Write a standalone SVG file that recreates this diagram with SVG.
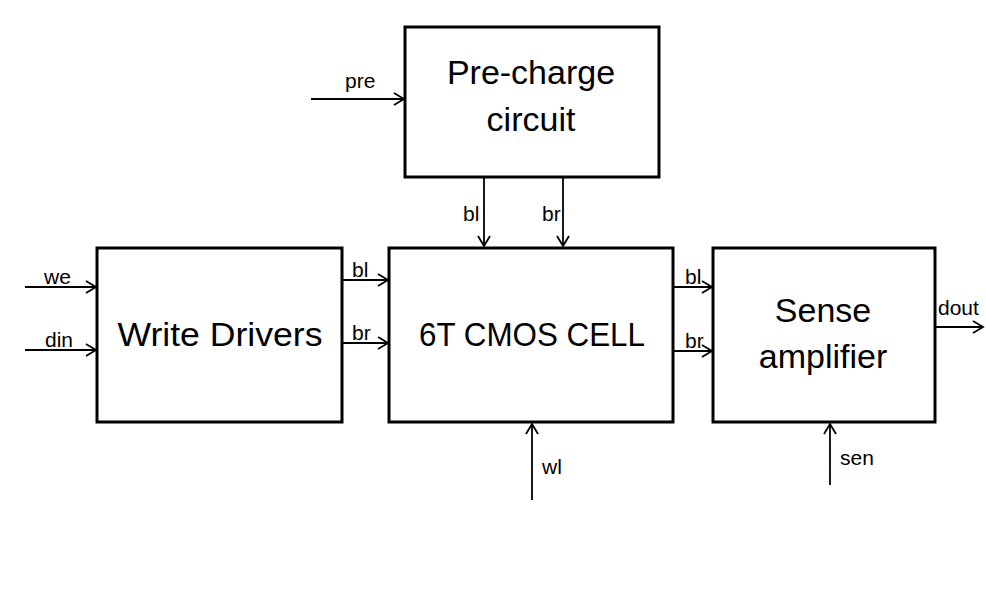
<svg xmlns="http://www.w3.org/2000/svg" width="986" height="593" viewBox="0 0 986 593">
<style>
.box{fill:#fff;stroke:#000;stroke-width:3}
.big{font-family:"Liberation Sans",Arial,sans-serif;font-size:34px;fill:#000;text-anchor:middle}
.lbl{font-family:"Liberation Sans",Arial,sans-serif;font-size:21px;fill:#000}
.w{stroke:#000;stroke-width:1.8;fill:none}
</style>
<defs>
<marker id="ah" markerWidth="14" markerHeight="14" viewBox="0 0 14 14" refX="12" refY="7" orient="auto" markerUnits="userSpaceOnUse">
<polyline points="2,1 12,7 2,13" fill="none" stroke="#000" stroke-width="1.8"/>
</marker>
</defs>
<rect width="986" height="593" fill="#fff"/>
<g id="precharge">
<rect class="box" x="405" y="27" width="254" height="150"/>
<text class="big" x="531" y="84">Pre-charge</text>
<text class="big" x="531" y="131">circuit</text>
</g>
<g id="writedrivers">
<rect class="box" x="97" y="248" width="245" height="174"/>
<text class="big" x="220" y="346" textLength="205" lengthAdjust="spacingAndGlyphs">Write Drivers</text>
</g>
<g id="cmoscell">
<rect class="box" x="389" y="248" width="284" height="174"/>
<text class="big" x="532" y="346" textLength="226" lengthAdjust="spacingAndGlyphs">6T CMOS CELL</text>
</g>
<g id="senseamp">
<rect class="box" x="713" y="248" width="222" height="174"/>
<text class="big" x="823" y="322">Sense</text>
<text class="big" x="823" y="368">amplifier</text>
</g>
<g id="connectors">
<line class="w" x1="311" y1="99" x2="404" y2="99" marker-end="url(#ah)"/>
<line class="w" x1="484" y1="178" x2="484" y2="246" marker-end="url(#ah)"/>
<line class="w" x1="563" y1="178" x2="563" y2="246" marker-end="url(#ah)"/>
<line class="w" x1="25" y1="287" x2="96" y2="287" marker-end="url(#ah)"/>
<line class="w" x1="25" y1="350" x2="96" y2="350" marker-end="url(#ah)"/>
<line class="w" x1="343" y1="280" x2="388" y2="280" marker-end="url(#ah)"/>
<line class="w" x1="343" y1="343" x2="388" y2="343" marker-end="url(#ah)"/>
<line class="w" x1="674" y1="287" x2="712" y2="287" marker-end="url(#ah)"/>
<line class="w" x1="674" y1="351" x2="712" y2="351" marker-end="url(#ah)"/>
<line class="w" x1="936" y1="327" x2="983" y2="327" marker-end="url(#ah)"/>
<line class="w" x1="532" y1="500" x2="532" y2="424" marker-end="url(#ah)"/>
<line class="w" x1="830" y1="485" x2="830" y2="424" marker-end="url(#ah)"/>
</g>
<g id="labels">
<text class="lbl" x="345" y="88">pre</text>
<text class="lbl" x="463" y="221">bl</text>
<text class="lbl" x="542" y="221">br</text>
<text class="lbl" x="44" y="284">we</text>
<text class="lbl" x="45" y="347">din</text>
<text class="lbl" x="352" y="277">bl</text>
<text class="lbl" x="352" y="340">br</text>
<text class="lbl" x="685" y="284">bl</text>
<text class="lbl" x="685" y="348">br</text>
<text class="lbl" x="938" y="315">dout</text>
<text class="lbl" x="542" y="474">wl</text>
<text class="lbl" x="840" y="465">sen</text>
</g>
</svg>
